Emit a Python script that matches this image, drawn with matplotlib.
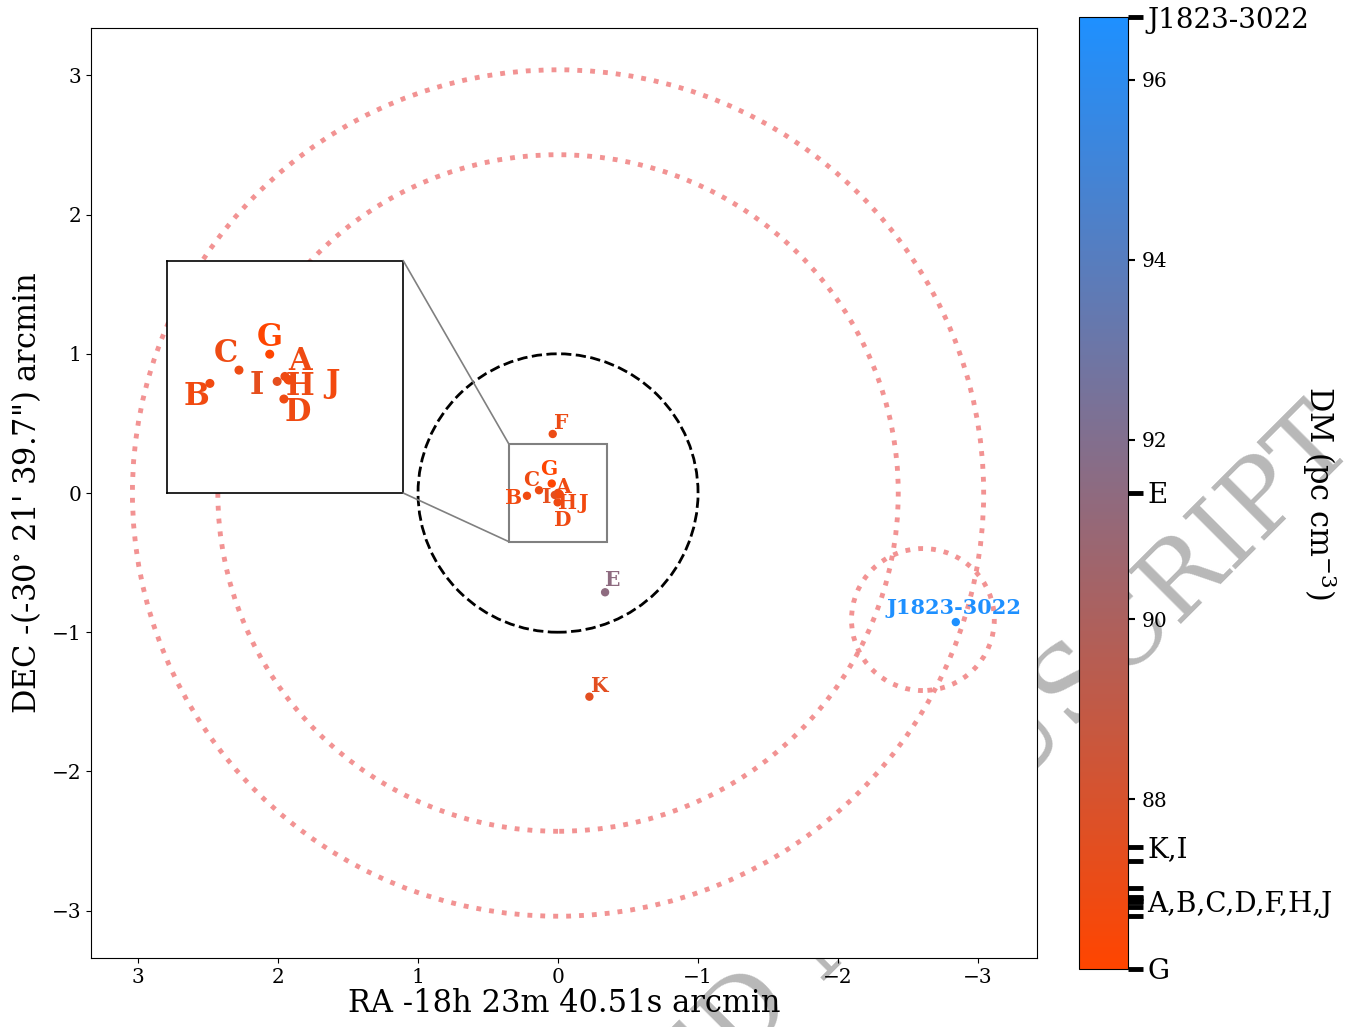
import numpy as np
import matplotlib
matplotlib.use("Agg")
import matplotlib.pyplot as plt
from matplotlib.colors import LinearSegmentedColormap, Normalize
from matplotlib.cm import ScalarMappable
from matplotlib.patches import Circle, Rectangle, ConnectionPatch

plt.rcParams['font.family'] = 'serif'
plt.rcParams['font.serif'] = ['DejaVu Serif']
plt.rcParams['mathtext.fontset'] = 'dejavuserif'

# ---------------- data ----------------
names = ['A', 'B', 'C', 'D', 'E', 'F', 'G', 'H', 'I', 'J', 'K', 'J1823-3022']
ra_off = [0.000, 0.222, 0.136, 0.003, -0.336, 0.038, 0.045, -0.009, 0.023, -0.012, -0.224, -2.841]
dec_off = [0.001, -0.020, 0.020, -0.067, -0.713, 0.424, 0.068, -0.008, -0.014, -0.010, -1.463, -0.927]
dm = [86.86, 86.80, 86.90, 86.87, 91.41, 87.01, 86.11, 86.91, 87.31, 86.70, 87.47, 96.70]

# beams / regions (centre x, centre y, radius) in arcmin
dotted_circles_x = [0.0, 0.0, -2.606]
dotted_circles_y = [0.0, 0.0, -0.909]
dotted_circles_r = [3.04, 2.43, 0.51]
dashed_circle = (0.0, 0.0, 1.0)

inset_names = ['A', 'B', 'C', 'D', 'G', 'H', 'I', 'J']

# colourbar ticks
cbar_num_ticks = [88, 90, 92, 94, 96]
cbar_named_groups = ['J1823-3022', 'E', 'K,I', 'A,B,C,D,F,H,J', 'G']
cbar_group_labelled = ['J1823-3022', 'E', 'K', 'A', 'G']

# ---------------- figure ----------------
fig = plt.figure(figsize=(13.6, 10.27), dpi=100)

# watermark behind everything
fig.text(0.622, 0.104, 'ACCEPTED MANUSCRIPT', rotation=45, fontsize=74,
         color='0.72', ha='center', va='center', rotation_mode='anchor',
         zorder=-5)

ax = fig.add_axes([0.0669, 0.0672, 0.6956, 0.9055])
cax = fig.add_axes([0.7934, 0.0565, 0.036, 0.9269])

cmap = LinearSegmentedColormap.from_list('dmcmap', ['orangered', 'dodgerblue'])
norm = Normalize(vmin=min(dm), vmax=max(dm))
colors = [cmap(norm(v)) for v in dm]

# circles
for cx, cy, r in zip(dotted_circles_x, dotted_circles_y, dotted_circles_r):
    ax.add_patch(Circle((cx, cy), r, fill=False, ec='lightcoral', alpha=0.85,
                        lw=3.5, ls=':', zorder=1))
ax.add_patch(Circle(dashed_circle[:2], dashed_circle[2], fill=False, ec='black',
                    lw=2, ls='--', zorder=1))

ax.scatter(ra_off, dec_off, c=dm, cmap=cmap, norm=norm, s=25, zorder=3)

main_offsets = {
    'A': (5, 6), 'B': (-13, -2), 'C': (-8, 10), 'D': (5, -18), 'E': (8, 12),
    'F': (8, 11), 'G': (-3, 15), 'H': (8, -9), 'I': (-8, -2), 'J': (24, -9),
    'K': (10, 11), 'J1823-3022': (-2, 14),
}
for n, x, y, c in zip(names, ra_off, dec_off, colors):
    ax.annotate(n, (x, y), xytext=main_offsets[n], textcoords='offset pixels',
                ha='center', va='center',
                fontsize=15 if n == 'J1823-3022' else 14.5, fontweight='bold',
                color=c, zorder=4)

ax.set_xlim(3.336, -3.421)
ax.set_ylim(-3.34, 3.34)
ax.set_xticks([3, 2, 1, 0, -1, -2, -3])
ax.set_yticks([-3, -2, -1, 0, 1, 2, 3])
ax.tick_params(labelsize=14.5)
ax.set_xlabel('RA -18h 23m 40.51s arcmin', fontsize=22, labelpad=1)
ax.set_ylabel('DEC -(-30$^{\\circ}$ 21\' 39.7") arcmin', fontsize=22, labelpad=6)

# inset
axin = ax.inset_axes([0.08, 0.5, 0.25, 0.25])
axin.set_xlim(0.35, -0.35)
axin.set_ylim(-0.35, 0.35)
axin.set_xticks([])
axin.set_yticks([])
for s in axin.spines.values():
    s.set_linewidth(1.2)
in_idx = [names.index(n) for n in inset_names]
axin.scatter([ra_off[i] for i in in_idx], [dec_off[i] for i in in_idx],
             c=[dm[i] for i in in_idx], cmap=cmap, norm=norm, s=30, zorder=3)
inset_offsets = {
    'A': (15, 15), 'B': (-13, -13), 'C': (-13, 17), 'D': (14, -13),
    'G': (0, 17), 'H': (12, -7), 'I': (-20, -4), 'J': (43, -3),
}
for i in in_idx:
    axin.annotate(names[i], (ra_off[i], dec_off[i]), xytext=inset_offsets[names[i]],
                  textcoords='offset pixels', ha='center', va='center',
                  fontsize=22, fontweight='bold', color=colors[i], zorder=4)

x0, x1 = axin.get_xlim()
y0, y1 = axin.get_ylim()
ax.add_patch(Rectangle((min(x0, x1), y0), abs(x1 - x0), y1 - y0, fill=False,
                       ec='gray', lw=1.5, zorder=2))
for ya, yb in [(1, y1), (0, y0)]:
    cp = ConnectionPatch(xyA=(1, ya), coordsA=axin.transAxes,
                         xyB=(max(x0, x1), yb), coordsB=ax.transData,
                         color='gray', lw=1.2)
    fig.add_artist(cp)

# colourbar
sm = ScalarMappable(norm=norm, cmap=cmap)
cb = fig.colorbar(sm, cax=cax)
named_vals = []
named_labels = []
for n, v in zip(names, dm):
    named_vals.append(v)
    lab = ''
    if n in cbar_group_labelled:
        lab = cbar_named_groups[cbar_group_labelled.index(n)]
    named_labels.append(lab)
cax.set_yticks(named_vals, labels=named_labels)
cax.set_yticks(cbar_num_ticks, labels=[str(t) for t in cbar_num_ticks], minor=True)
cax.tick_params(which='major', length=11, width=3.5, labelsize=20, pad=3)
cax.tick_params(which='minor', length=5, width=1.5, labelsize=14.5, pad=5)
cax.text(4.92, 0.5, 'DM (pc cm$^{-3}$)', transform=cax.transAxes, rotation=270,
         ha='center', va='center', fontsize=22)

fig.savefig('out.png', dpi=100)
